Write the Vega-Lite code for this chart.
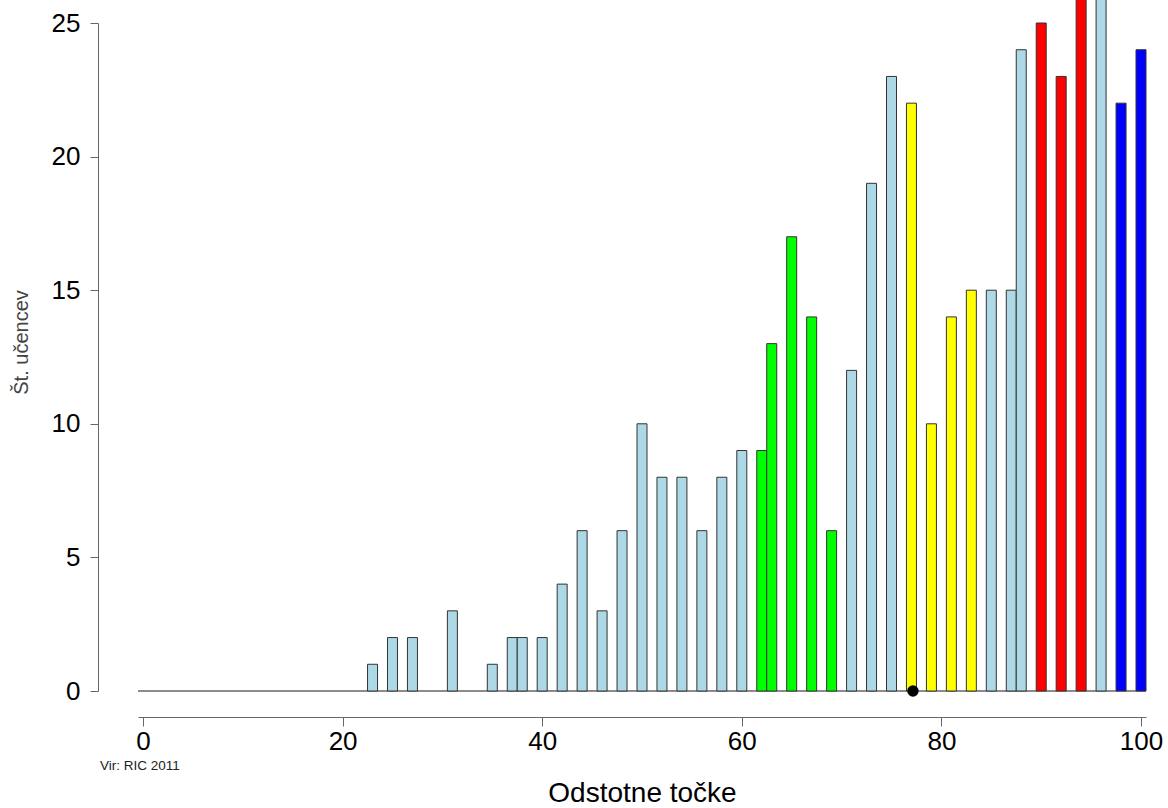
{
  "$schema": "https://vega.github.io/schema/vega-lite/v6.json",
  "width": 1008,
  "height": 668,
  "autosize": {"type": "none"},
  "padding": {"left": 138, "top": 23, "right": 22, "bottom": 117},
  "background": "white",
  "config": {
    "font": "Liberation Sans",
    "view": {"stroke": null}
  },
  "title": {
    "text": "Vir: RIC 2011",
    "orient": "bottom",
    "anchor": "start",
    "frame": "group",
    "fontSize": 13.5,
    "fontWeight": "normal",
    "color": "#222222",
    "dx": -38,
    "offset": -48
  },
  "layer": [
    {
      "data": {"values": [{}]},
      "mark": {"type": "rule", "color": "#666666", "strokeWidth": 1.5},
      "encoding": {
        "x": {"datum": -0.5, "type": "quantitative"},
        "x2": {"datum": 100.5},
        "y": {"datum": 0, "type": "quantitative"}
      }
    },
    {
      "data": {
        "values": [
          {"score": 23, "count": 1, "group": "base"},
          {"score": 25, "count": 2, "group": "base"},
          {"score": 27, "count": 2, "group": "base"},
          {"score": 31, "count": 3, "group": "base"},
          {"score": 35, "count": 1, "group": "base"},
          {"score": 37, "count": 2, "group": "base"},
          {"score": 38, "count": 2, "group": "base"},
          {"score": 40, "count": 2, "group": "base"},
          {"score": 42, "count": 4, "group": "base"},
          {"score": 44, "count": 6, "group": "base"},
          {"score": 46, "count": 3, "group": "base"},
          {"score": 48, "count": 6, "group": "base"},
          {"score": 50, "count": 10, "group": "base"},
          {"score": 52, "count": 8, "group": "base"},
          {"score": 54, "count": 8, "group": "base"},
          {"score": 56, "count": 6, "group": "base"},
          {"score": 58, "count": 8, "group": "base"},
          {"score": 60, "count": 9, "group": "base"},
          {"score": 62, "count": 9, "group": "green"},
          {"score": 63, "count": 13, "group": "green"},
          {"score": 65, "count": 17, "group": "green"},
          {"score": 67, "count": 14, "group": "green"},
          {"score": 69, "count": 6, "group": "green"},
          {"score": 71, "count": 12, "group": "base"},
          {"score": 73, "count": 19, "group": "base"},
          {"score": 75, "count": 23, "group": "base"},
          {"score": 77, "count": 22, "group": "yellow"},
          {"score": 79, "count": 10, "group": "yellow"},
          {"score": 81, "count": 14, "group": "yellow"},
          {"score": 83, "count": 15, "group": "yellow"},
          {"score": 85, "count": 15, "group": "base"},
          {"score": 87, "count": 15, "group": "base"},
          {"score": 88, "count": 24, "group": "base"},
          {"score": 90, "count": 25, "group": "red"},
          {"score": 92, "count": 23, "group": "red"},
          {"score": 94, "count": 28, "group": "red"},
          {"score": 96, "count": 29, "group": "base"},
          {"score": 98, "count": 22, "group": "blue"},
          {"score": 100, "count": 24, "group": "blue"}
        ]
      },
      "mark": {"type": "bar", "width": 10, "stroke": "#333333", "strokeWidth": 1},
      "encoding": {
        "x": {
          "field": "score",
          "type": "quantitative",
          "scale": {"domain": [-0.5, 100.5], "nice": false, "zero": false, "padding": 0},
          "axis": {
            "values": [0, 20, 40, 60, 80, 100],
            "offset": 26,
            "tickSize": 9,
            "labelPadding": 2,
            "labelFontSize": 26,
            "labelColor": "#000000",
            "labelFlush": false,
            "domainColor": "#666666",
            "tickColor": "#666666",
            "grid": false,
            "title": "Odstotne točke",
            "titleFontSize": 28,
            "titleFontWeight": "normal",
            "titleColor": "#000000",
            "titlePadding": 25
          }
        },
        "y": {
          "field": "count",
          "type": "quantitative",
          "scale": {"domain": [0, 25], "nice": false},
          "axis": {
            "values": [0, 5, 10, 15, 20, 25],
            "offset": 40,
            "tickSize": 8,
            "labelPadding": 10,
            "labelFontSize": 26,
            "labelColor": "#000000",
            "labelFlush": false,
            "domainColor": "#666666",
            "tickColor": "#666666",
            "grid": false,
            "title": "Št. učencev",
            "titleFontSize": 20,
            "titleFontWeight": "normal",
            "titleColor": "#444444",
            "titlePadding": 20,
            "titleY": 319
          }
        },
        "color": {
          "field": "group",
          "type": "nominal",
          "scale": {
            "domain": ["base", "green", "yellow", "red", "blue"],
            "range": ["#ADD8E6", "#00FF00", "#FFFF00", "#FF0000", "#0000FF"]
          },
          "legend": null
        }
      }
    },
    {
      "data": {"values": [{"score": 77.15}]},
      "mark": {"type": "point", "filled": true, "color": "#000000", "opacity": 1, "size": 130, "shape": "circle"},
      "encoding": {
        "x": {"field": "score", "type": "quantitative"},
        "y": {"datum": 0, "type": "quantitative"}
      }
    }
  ]
}
